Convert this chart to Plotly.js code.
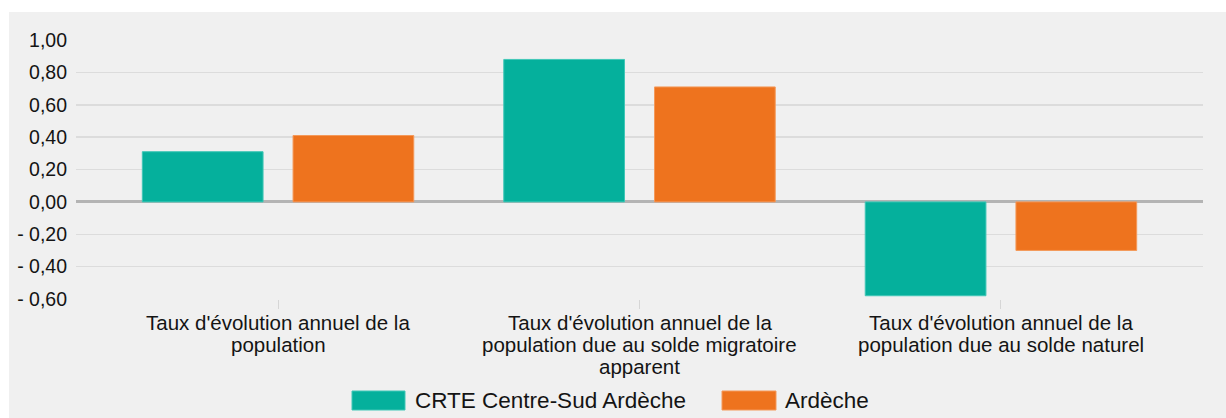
<!DOCTYPE html>
<html>
<head>
<meta charset="utf-8">
<script src="https://cdn.plot.ly/plotly-3.0.1.min.js"></script>
<style>
  html, body { margin: 0; padding: 0; background: #ffffff; width: 1226px; height: 418px; overflow: hidden; }
  #chart { position: absolute; left: 9px; top: 12px; width: 1217px; height: 406px; }
</style>
</head>
<body>
<div id="chart"></div>
<script>
// ---- Data ----
const categories = [
  "Taux d'évolution annuel de la<br>population",
  "Taux d'évolution annuel de la<br>population due au solde migratoire<br>apparent",
  "Taux d'évolution annuel de la<br>population due au solde naturel"
];
const seriesNames = ["CRTE Centre-Sud Ardèche", "Ardèche"];
const crteValues = [0.31, 0.88, -0.58];
const ardecheValues = [0.41, 0.71, -0.30];
const tickValues = [1.0, 0.8, 0.6, 0.4, 0.2, 0.0, -0.2, -0.4, -0.6];
const tickLabels = ["1,00", "0,80", "0,60", "0,40", "0,20", "0,00", "- 0,20", "- 0,40", "- 0,60"];

// ---- Style ----
const teal = "#05b09c";
const orange = "#ee731e";
const font = "Liberation Sans, Arial, sans-serif";

// plot area in page pixels: x 76..1203, y 40..299
const PX0 = 76, PX1 = 1203, PY0 = 40, PY1 = 299;
const px = v => (v - PX0) / (PX1 - PX0);
const py = v => (PY1 - v) / (PY1 - PY0);

const traces = [
  { type: "bar", name: seriesNames[0], x: categories, y: crteValues,
    marker: { color: teal, line: { color: "#40c7b7", width: 1 } }, hoverinfo: "y" },
  { type: "bar", name: seriesNames[1], x: categories, y: ardecheValues,
    marker: { color: orange, line: { color: "#f4995a", width: 1 } }, hoverinfo: "y" }
];

const annotations = [];
categories.forEach(cat => {
  cat.split("<br>").forEach((line, i) => {
    annotations.push({
      xref: "x", yref: "paper", x: cat, y: py(322 + 22 * i),
      text: line, showarrow: false, xanchor: "center", yanchor: "middle",
      font: { family: font, size: 20.5, color: "#141414" }
    });
  });
});

// custom legend
const legendItems = [
  { name: seriesNames[0], color: teal, line: "#40c7b7", sx0: 352, sx1: 405, tx: 413 },
  { name: seriesNames[1], color: orange, line: "#f4995a", sx0: 722, sx1: 776, tx: 783 }
];
const shapes = [];
legendItems.forEach(it => {
  shapes.push({ type: "rect", xref: "paper", yref: "paper",
    x0: px(it.sx0), x1: px(it.sx1), y0: py(391), y1: py(410),
    fillcolor: it.color, line: { color: it.line, width: 1 } });
  annotations.push({ xref: "paper", yref: "paper", x: px(it.tx), y: py(400.5),
    text: it.name, showarrow: false, xanchor: "left", yanchor: "middle",
    font: { family: font, size: 22.5, color: "#141414" } });
});

const layout = {
  width: 1217, height: 406,
  margin: { l: 67, r: 23, t: 28, b: 119, pad: 0 },
  paper_bgcolor: "#f0f0f0",
  plot_bgcolor: "#f0f0f0",
  barmode: "group",
  bargap: 0.166,
  bargroupgap: 0.199,
  showlegend: false,
  font: { family: font, color: "#141414" },
  xaxis: {
    type: "category",
    range: [-0.559, 2.559],
    showticklabels: false,
    ticks: "outside", ticklen: 9, tickwidth: 1, tickcolor: "#d6d6d6",
    showgrid: false, zeroline: false, showline: false,
    fixedrange: true
  },
  yaxis: {
    range: [-0.6, 1.0],
    tickvals: tickValues,
    ticktext: tickLabels,
    tickfont: { family: font, size: 19.5, color: "#141414" },
    ticks: "", ticklabelstandoff: 8,
    showgrid: true, gridcolor: "#dcdcdc", gridwidth: 1.5,
    zeroline: true, zerolinecolor: "#b4b4b4", zerolinewidth: 3,
    showline: false, fixedrange: true
  },
  shapes: shapes,
  annotations: annotations
};

Plotly.newPlot("chart", traces, layout, { displayModeBar: false, staticPlot: true });
</script>
</body>
</html>
